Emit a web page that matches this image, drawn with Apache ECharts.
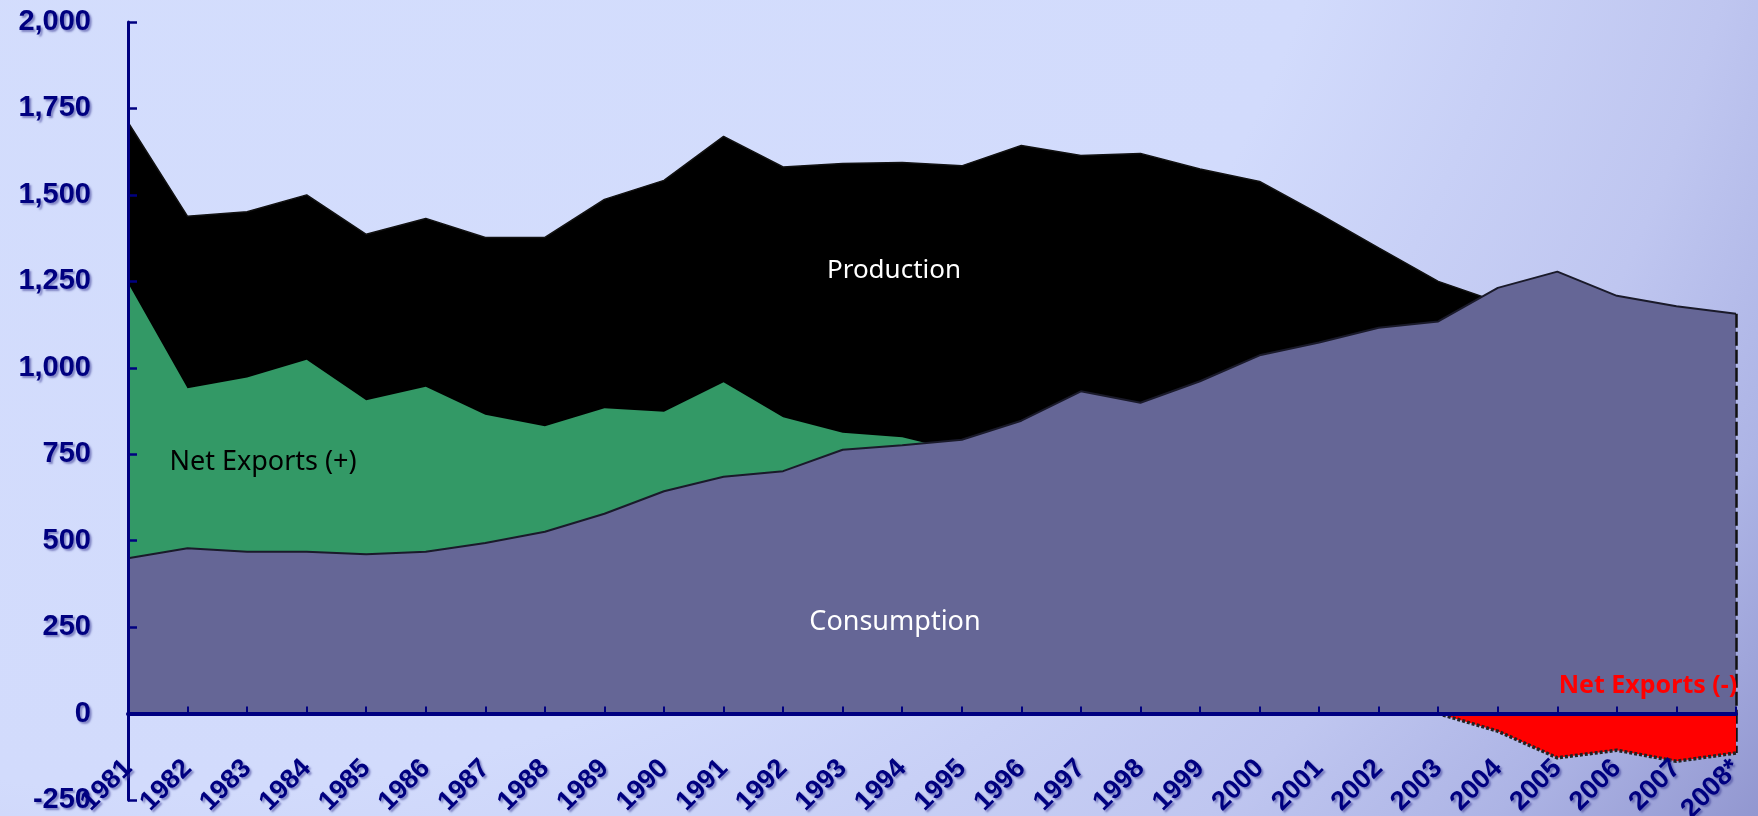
<!DOCTYPE html>
<html>
<head>
<meta charset="utf-8">
<script src="https://cdn.jsdelivr.net/npm/echarts@6/dist/echarts.min.js"></script>
<style>html,body{margin:0;padding:0;}#c{width:1758px;height:816px;}</style>
</head>
<body>
<div id="c"></div>
<script>
const years = ['1981','1982','1983','1984','1985','1986','1987','1988','1989','1990','1991','1992','1993','1994','1995','1996','1997','1998','1999','2000','2001','2002','2003','2004','2005','2006','2007','2008*'];
const production = [1710,1438,1451,1500,1386,1432,1377,1377,1487,1542,1669,1581,1591,1594,1584,1643,1614,1620,1575,1539,1445,1347,1250,1190,1151,1102,1044,1039];
const netExportsLevel = [1245,941,972,1023,906,945,864,831,883,873,958,857,812,799,757,null,null,null,null,null,null,null,null,null,null,null,null,null];
const consumption = [449,478,468,468,461,468,493,526,578,643,685,701,763,776,792,847,932,899,961,1036,1073,1116,1134,1231,1278,1208,1178,1156];
const netExportsNeg = [null,null,null,null,null,null,null,null,null,null,null,null,null,null,null,null,null,null,null,null,null,null,0,-51,-128,-106,-138,-114];
const yMin = -250, yMax = 2000, yStep = 250;

const navy = '#000080';
const shadow = {textShadowColor:'rgba(60,60,150,0.55)', textShadowBlur:2, textShadowOffsetX:2, textShadowOffsetY:2};
const chart = echarts.init(document.getElementById('c'));
chart.setOption({
  animation:false,
  backgroundColor: new echarts.graphic.RadialGradient(0.1,-0.5,2.45,[
    {offset:0,color:'#d4defd'},{offset:0.6,color:'#d2dbfc'},{offset:0.7,color:'#c8d0f6'},
    {offset:0.8,color:'#bfc6f0'},{offset:0.9,color:'#adb4e5'},{offset:1,color:'#9297d0'}]),
  grid:{left:128,right:22,top:22,bottom:16,containLabel:false,outerBoundsMode:'none'},
  xAxis:{
    type:'category', data:years, boundaryGap:false, z:10,
    axisLine:{onZero:true, lineStyle:{color:navy,width:4}},
    axisTick:{inside:true,length:7,lineStyle:{color:navy,width:2}},
    axisLabel:Object.assign({interval:0,rotate:45,margin:-36,color:navy,fontFamily:'Liberation Sans',fontWeight:'bold',fontSize:27},shadow),
    splitLine:{show:false}
  },
  yAxis:{
    type:'value', min:yMin, max:yMax, interval:yStep, z:10,
    axisLine:{show:true,lineStyle:{color:navy,width:3}},
    axisTick:{show:true,inside:true,length:9,lineStyle:{color:navy,width:2.5}},
    axisLabel:Object.assign({margin:37,color:navy,fontFamily:'Liberation Sans',fontWeight:'bold',fontSize:29,
      formatter:v=>v.toLocaleString('en-US')},shadow),
    splitLine:{show:false}
  },
  series:[
    {type:'line',z:2,data:production,showSymbol:false,symbol:'none',
      lineStyle:{color:'#111',width:1.5},areaStyle:{color:'#000',opacity:1}},
    {type:'line',z:3,data:netExportsLevel,showSymbol:false,symbol:'none',
      lineStyle:{opacity:0},areaStyle:{color:'#339966',opacity:1}},
    {type:'line',z:4,data:consumption,showSymbol:false,symbol:'none',
      lineStyle:{color:'#1a1a2a',width:2},areaStyle:{color:'#656696',opacity:1},
      markLine:{symbol:'none',silent:true,label:{show:false},
        lineStyle:{color:'#111',width:2.5,type:[14,4]},
        data:[[{coord:[years[years.length-1],consumption[consumption.length-1]]},
               {coord:[years[years.length-1],netExportsNeg[netExportsNeg.length-1]]}]]}},
    {type:'line',z:5,data:netExportsNeg,showSymbol:false,symbol:'none',
      lineStyle:{color:'#222',width:3.5,type:[3,2]},areaStyle:{color:'#ff0000',opacity:1}}
  ],
  graphic:[
    {type:'text',z:100,x:894,y:271,style:{text:'Production',fill:'#fff',font:'26px "Noto Sans"',align:'center',verticalAlign:'middle'}},
    {type:'text',z:100,x:263,y:462,style:{text:'Net Exports (+)',fill:'#000',font:'27px "Noto Sans"',align:'center',verticalAlign:'middle'}},
    {type:'text',z:100,x:895,y:622,style:{text:'Consumption',fill:'#fff',font:'27px "Noto Sans"',align:'center',verticalAlign:'middle'}},
    {type:'text',z:100,x:1648,y:686,style:{text:'Net Exports (-)',fill:'#ff0000',font:'bold 25px "Noto Sans"',align:'center',verticalAlign:'middle'}}
  ]
});
</script>
</body>
</html>
